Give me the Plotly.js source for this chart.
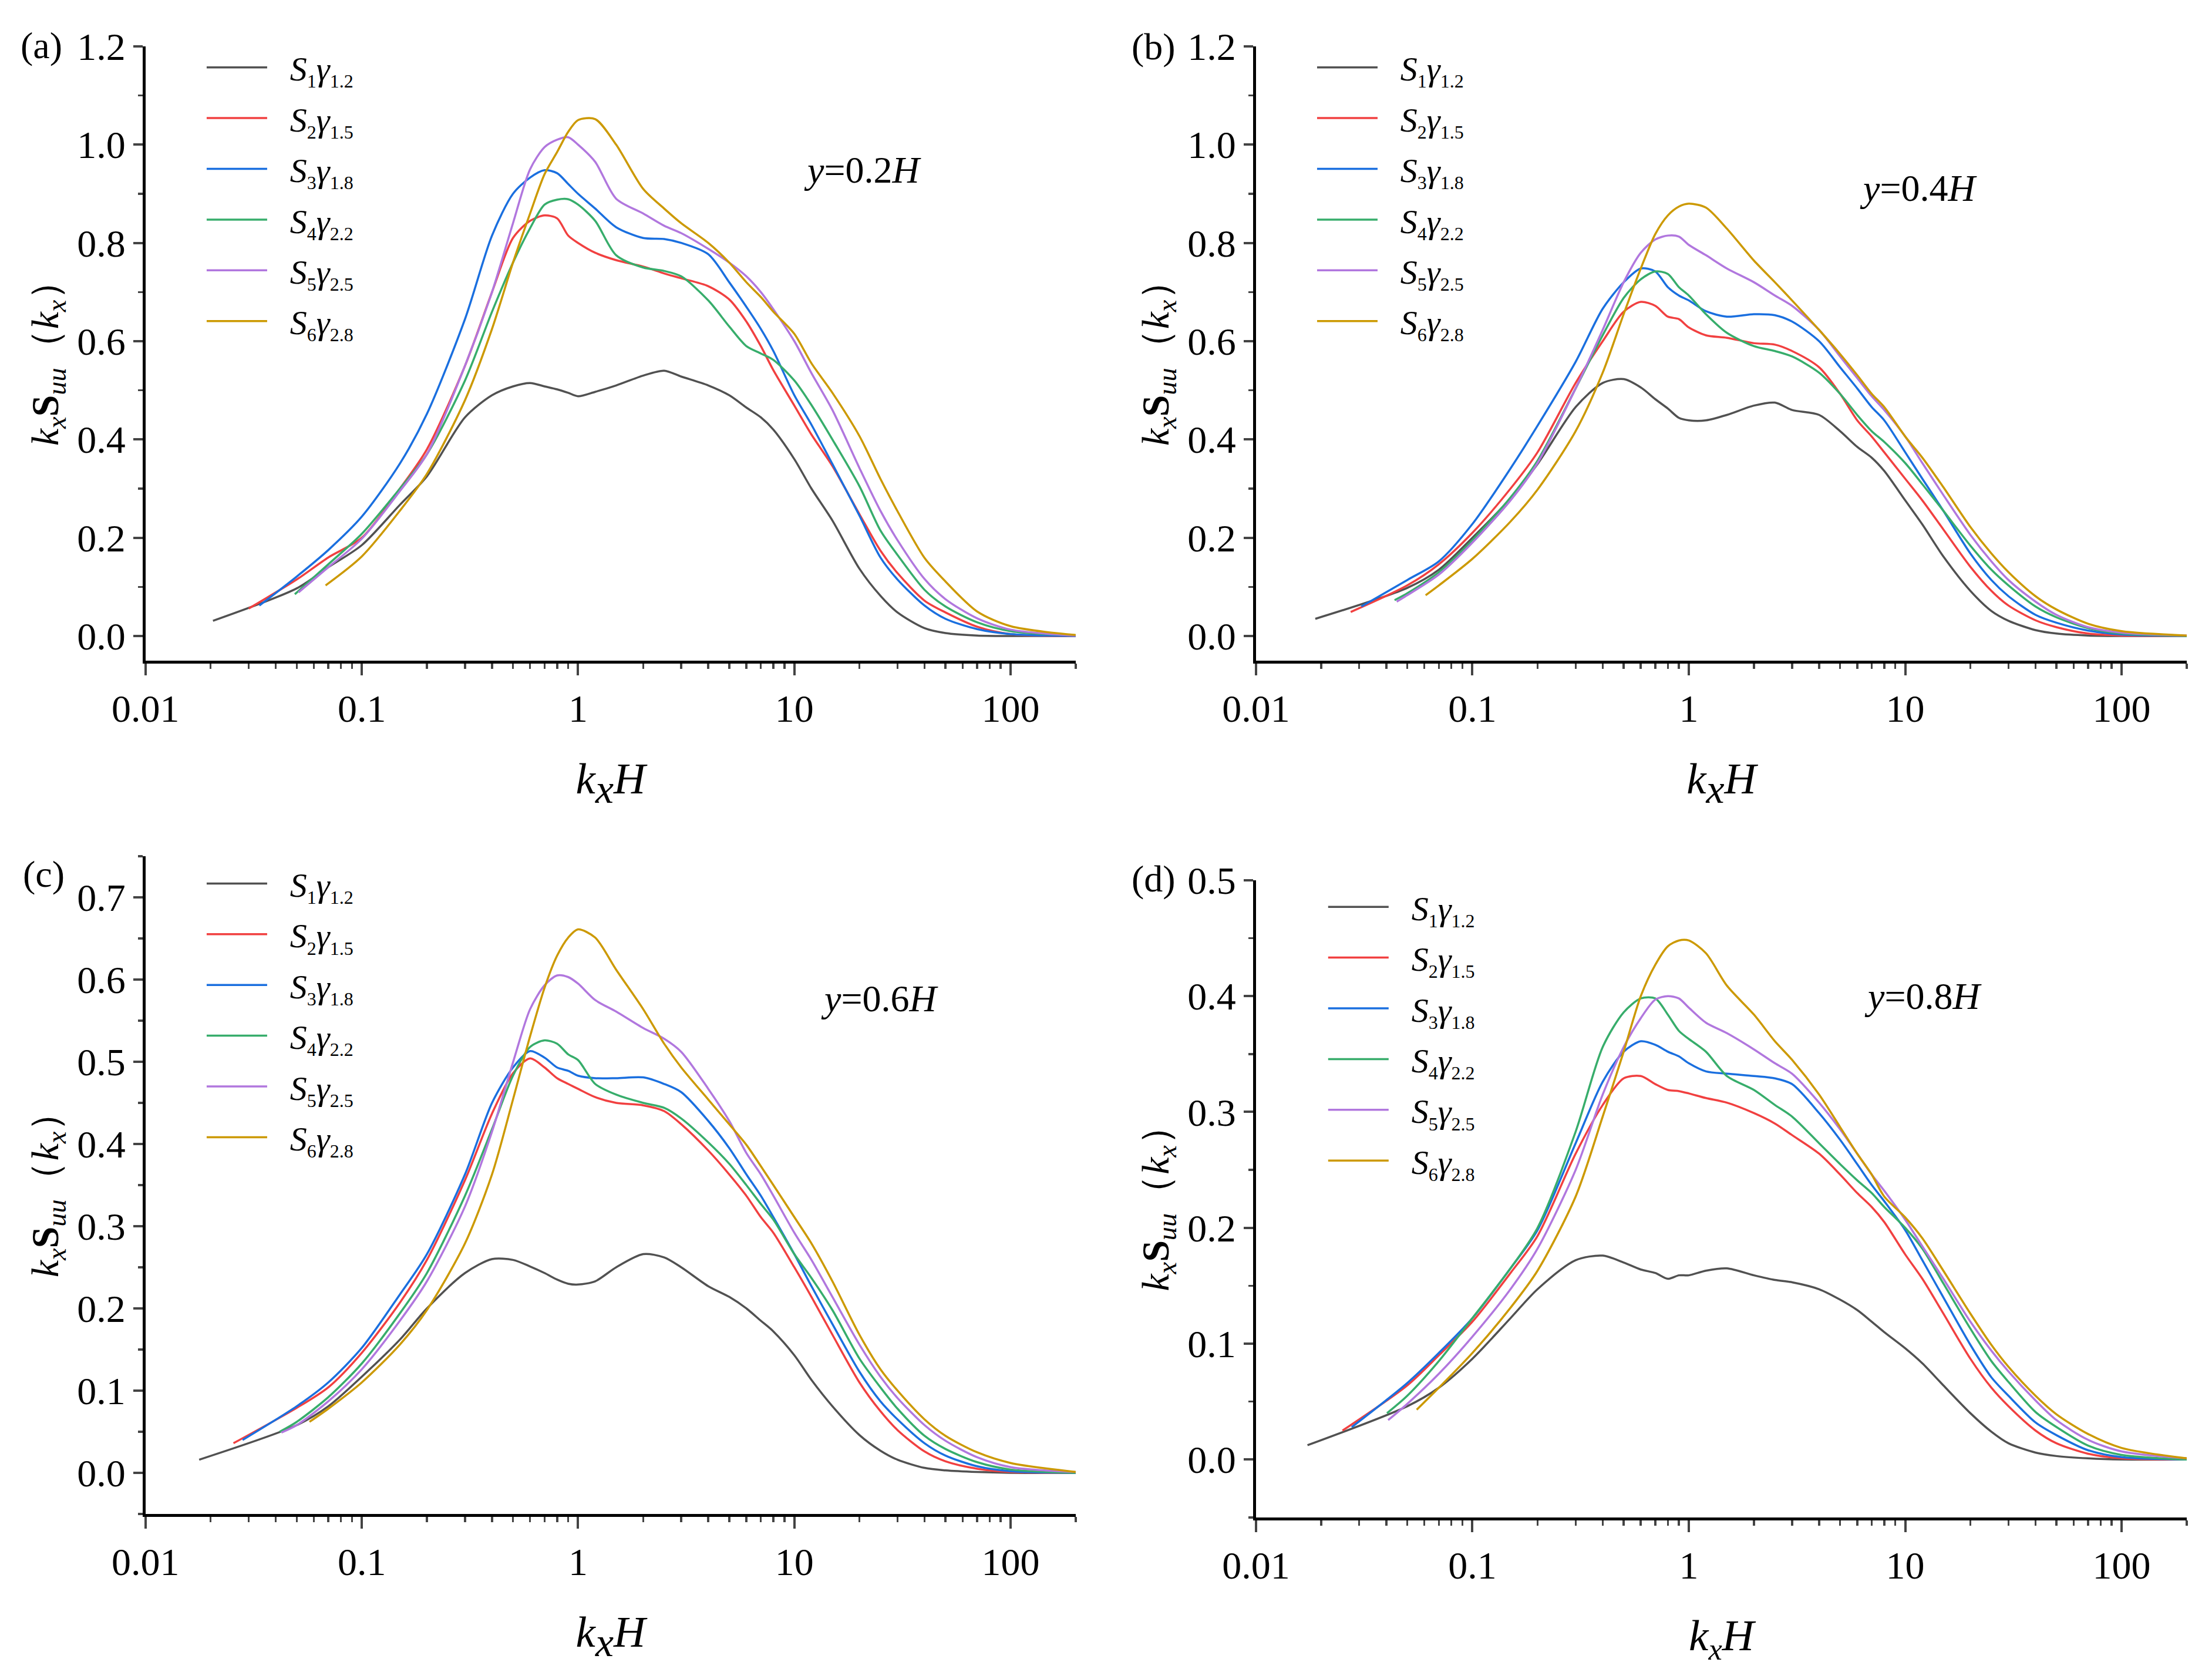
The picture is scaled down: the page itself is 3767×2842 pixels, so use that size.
<!DOCTYPE html>
<html>
<head>
<meta charset="utf-8">
<script src="https://cdn.plot.ly/plotly-3.0.1.min.js"></script>
<style>
	html, body {margin: 0; padding: 0; background: #fff;}
	#chart {width: 3767px; height: 2842px;}
</style>
</head>
<body>
<div id="chart"></div>
<script>
// shared kxH grid (values at these positions)
const kxH = [0.05, 0.07, 0.1, 0.15, 0.2, 0.3, 0.4, 0.5, 0.6, 0.7, 0.8, 0.9, 1, 1.2, 1.5, 2, 2.5, 3, 4, 5, 6, 7, 8, 10, 12, 15, 20, 25, 30, 40, 50, 70, 100, 200];

const sub = (t) => '<sub><span style="font-size:32px">' + t + '</span></sub>';
const names = [
	'<i>S</i>' + sub('1') + '<i>γ</i>' + sub('1.2'),
	'<i>S</i>' + sub('2') + '<i>γ</i>' + sub('1.5'),
	'<i>S</i>' + sub('3') + '<i>γ</i>' + sub('1.8'),
	'<i>S</i>' + sub('4') + '<i>γ</i>' + sub('2.2'),
	'<i>S</i>' + sub('5') + '<i>γ</i>' + sub('2.5'),
	'<i>S</i>' + sub('6') + '<i>γ</i>' + sub('2.8')
];
const colors = ['#515151', '#F14040', '#1A6FDF', '#37AD6B', '#B177DE', '#CC9900'];

// (a) y=0.2H
const a_start_x = [0.0205, 0.030, 0.0336, 0.049, 0.051, 0.068];
const a_start_y = [0.031, 0.056, 0.062, 0.085, 0.089, 0.103];
const a_s1 = [0.097, 0.14, 0.185, 0.267, 0.325, 0.445, 0.49, 0.508, 0.515, 0.508, 0.502, 0.495, 0.488, 0.497, 0.51, 0.53, 0.54, 0.528, 0.51, 0.49, 0.465, 0.445, 0.42, 0.36, 0.30, 0.235, 0.137, 0.082, 0.048, 0.016, 0.006, 0.001, 0, 0];
const a_s2 = [0.115, 0.16, 0.20, 0.30, 0.38, 0.55, 0.70, 0.81, 0.845, 0.856, 0.85, 0.815, 0.80, 0.78, 0.765, 0.752, 0.738, 0.728, 0.712, 0.685, 0.64, 0.59, 0.541, 0.469, 0.41, 0.346, 0.248, 0.174, 0.128, 0.072, 0.048, 0.019, 0.004, 0];
const a_s3 = [0.121, 0.175, 0.243, 0.351, 0.452, 0.645, 0.815, 0.90, 0.933, 0.948, 0.942, 0.92, 0.90, 0.87, 0.832, 0.81, 0.808, 0.80, 0.777, 0.72, 0.67, 0.625, 0.58, 0.49, 0.43, 0.35, 0.245, 0.16, 0.115, 0.062, 0.035, 0.014, 0.004, 0];
const a_s4 = [null, 0.146, 0.208, 0.30, 0.37, 0.52, 0.66, 0.76, 0.83, 0.878, 0.888, 0.889, 0.878, 0.845, 0.775, 0.75, 0.743, 0.732, 0.683, 0.63, 0.59, 0.575, 0.562, 0.52, 0.47, 0.40, 0.305, 0.215, 0.165, 0.094, 0.06, 0.028, 0.01, 0.001];
const a_s5 = [null, 0.14, 0.198, 0.295, 0.37, 0.55, 0.70, 0.84, 0.95, 0.995, 1.01, 1.015, 1.0, 0.965, 0.89, 0.86, 0.835, 0.82, 0.788, 0.76, 0.732, 0.70, 0.665, 0.60, 0.535, 0.46, 0.342, 0.255, 0.195, 0.116, 0.075, 0.036, 0.013, 0.001];
const a_s6 = [null, null, 0.162, 0.255, 0.33, 0.48, 0.625, 0.76, 0.86, 0.94, 0.985, 1.026, 1.05, 1.052, 1.0, 0.91, 0.87, 0.84, 0.80, 0.76, 0.72, 0.69, 0.66, 0.615, 0.555, 0.495, 0.407, 0.32, 0.254, 0.159, 0.111, 0.05, 0.02, 0.002];

// (b) y=0.4H
const b_start_x = [0.0188, 0.0274, 0.0307, 0.0437, 0.0447, 0.0608];
const b_start_y = [0.035, 0.049, 0.060, 0.073, 0.070, 0.083];
const b_s1 = [0.098, 0.135, 0.20, 0.28, 0.35, 0.466, 0.515, 0.523, 0.506, 0.482, 0.463, 0.444, 0.439, 0.439, 0.45, 0.469, 0.475, 0.46, 0.45, 0.417, 0.385, 0.363, 0.336, 0.276, 0.227, 0.162, 0.092, 0.051, 0.031, 0.012, 0.005, 0.001, 0, 0];
const b_s2 = [0.103, 0.146, 0.21, 0.30, 0.374, 0.515, 0.60, 0.66, 0.68, 0.672, 0.65, 0.645, 0.628, 0.612, 0.607, 0.596, 0.593, 0.58, 0.547, 0.493, 0.439, 0.406, 0.374, 0.32, 0.276, 0.217, 0.141, 0.092, 0.062, 0.032, 0.018, 0.005, 0.001, 0];
const b_s3 = [0.114, 0.152, 0.228, 0.341, 0.428, 0.558, 0.666, 0.72, 0.748, 0.742, 0.71, 0.693, 0.683, 0.661, 0.65, 0.655, 0.653, 0.64, 0.60, 0.547, 0.504, 0.466, 0.439, 0.374, 0.32, 0.255, 0.168, 0.114, 0.081, 0.043, 0.027, 0.011, 0.003, 0];
const b_s4 = [0.087, 0.13, 0.195, 0.282, 0.357, 0.504, 0.612, 0.688, 0.726, 0.742, 0.737, 0.71, 0.693, 0.655, 0.617, 0.59, 0.58, 0.569, 0.536, 0.493, 0.45, 0.417, 0.395, 0.352, 0.309, 0.255, 0.184, 0.135, 0.103, 0.06, 0.038, 0.016, 0.005, 0];
const b_s5 = [0.083, 0.125, 0.19, 0.276, 0.352, 0.504, 0.623, 0.72, 0.78, 0.807, 0.815, 0.813, 0.796, 0.775, 0.748, 0.72, 0.693, 0.672, 0.623, 0.569, 0.525, 0.488, 0.46, 0.406, 0.352, 0.287, 0.206, 0.152, 0.114, 0.07, 0.043, 0.018, 0.007, 0.001];
const b_s6 = [null, 0.103, 0.157, 0.233, 0.298, 0.417, 0.536, 0.655, 0.748, 0.818, 0.856, 0.874, 0.88, 0.872, 0.829, 0.764, 0.72, 0.683, 0.623, 0.574, 0.531, 0.493, 0.466, 0.406, 0.363, 0.303, 0.222, 0.168, 0.13, 0.081, 0.054, 0.025, 0.01, 0.001];

// (c) y=0.6H
const c_start_x = [0.0177, 0.0255, 0.0281, 0.0417, 0.0425, 0.0573];
const c_start_y = [0.016, 0.036, 0.040, 0.050, 0.049, 0.062];
const c_s1 = [0.058, 0.081, 0.117, 0.162, 0.20, 0.243, 0.26, 0.259, 0.251, 0.243, 0.235, 0.23, 0.229, 0.233, 0.25, 0.266, 0.262, 0.25, 0.227, 0.214, 0.20, 0.185, 0.172, 0.143, 0.113, 0.081, 0.046, 0.027, 0.016, 0.006, 0.003, 0.001, 0, 0];
const c_s2 = [0.079, 0.104, 0.146, 0.207, 0.259, 0.356, 0.437, 0.486, 0.504, 0.493, 0.48, 0.473, 0.467, 0.457, 0.45, 0.447, 0.44, 0.424, 0.392, 0.363, 0.337, 0.311, 0.292, 0.25, 0.214, 0.168, 0.11, 0.075, 0.052, 0.026, 0.014, 0.005, 0.001, 0];
const c_s3 = [0.081, 0.11, 0.152, 0.217, 0.266, 0.363, 0.45, 0.493, 0.513, 0.505, 0.493, 0.489, 0.483, 0.48, 0.48, 0.481, 0.473, 0.463, 0.428, 0.395, 0.363, 0.337, 0.311, 0.266, 0.227, 0.181, 0.123, 0.087, 0.065, 0.036, 0.021, 0.008, 0.002, 0];
const c_s4 = [0.062, 0.092, 0.133, 0.194, 0.243, 0.337, 0.418, 0.483, 0.518, 0.526, 0.522, 0.509, 0.502, 0.473, 0.46, 0.45, 0.444, 0.431, 0.402, 0.376, 0.35, 0.327, 0.308, 0.266, 0.237, 0.198, 0.139, 0.104, 0.078, 0.045, 0.029, 0.013, 0.004, 0];
const c_s5 = [0.058, 0.087, 0.126, 0.185, 0.233, 0.324, 0.415, 0.499, 0.564, 0.593, 0.605, 0.603, 0.595, 0.575, 0.561, 0.541, 0.528, 0.512, 0.467, 0.428, 0.389, 0.363, 0.337, 0.292, 0.259, 0.214, 0.156, 0.117, 0.091, 0.058, 0.039, 0.019, 0.007, 0.001];
const c_s6 = [null, 0.078, 0.11, 0.156, 0.198, 0.279, 0.363, 0.454, 0.531, 0.59, 0.629, 0.651, 0.661, 0.651, 0.612, 0.564, 0.522, 0.493, 0.454, 0.424, 0.399, 0.373, 0.35, 0.311, 0.279, 0.233, 0.168, 0.126, 0.10, 0.065, 0.045, 0.025, 0.012, 0.001];

// (d) y=0.8H
const d_start_x = [0.0173, 0.0251, 0.0277, 0.0403, 0.0408, 0.0553];
const d_start_y = [0.0124, 0.025, 0.028, 0.040, 0.034, 0.043];
const d_s1 = [0.046, 0.062, 0.087, 0.122, 0.147, 0.172, 0.176, 0.17, 0.164, 0.161, 0.156, 0.159, 0.159, 0.163, 0.165, 0.159, 0.155, 0.153, 0.147, 0.138, 0.129, 0.119, 0.11, 0.096, 0.083, 0.064, 0.040, 0.024, 0.014, 0.006, 0.003, 0.001, 0, 0];
const d_s2 = [0.064, 0.09, 0.119, 0.161, 0.193, 0.264, 0.306, 0.329, 0.331, 0.324, 0.319, 0.318, 0.316, 0.312, 0.308, 0.299, 0.29, 0.28, 0.264, 0.246, 0.23, 0.218, 0.205, 0.177, 0.156, 0.126, 0.087, 0.062, 0.046, 0.025, 0.014, 0.005, 0.001, 0];
const d_s3 = [0.066, 0.092, 0.122, 0.165, 0.198, 0.273, 0.326, 0.352, 0.361, 0.358, 0.352, 0.348, 0.342, 0.335, 0.333, 0.331, 0.329, 0.324, 0.299, 0.276, 0.255, 0.237, 0.223, 0.198, 0.172, 0.14, 0.099, 0.071, 0.055, 0.032, 0.021, 0.008, 0.002, 0];
const d_s4 = [0.055, 0.085, 0.122, 0.165, 0.20, 0.283, 0.356, 0.386, 0.398, 0.398, 0.384, 0.37, 0.363, 0.352, 0.331, 0.319, 0.306, 0.296, 0.273, 0.255, 0.241, 0.23, 0.218, 0.20, 0.182, 0.152, 0.113, 0.085, 0.067, 0.041, 0.028, 0.012, 0.004, 0];
const d_s5 = [0.048, 0.074, 0.106, 0.147, 0.182, 0.25, 0.315, 0.356, 0.381, 0.397, 0.40, 0.398, 0.39, 0.377, 0.368, 0.354, 0.342, 0.333, 0.308, 0.285, 0.264, 0.246, 0.232, 0.207, 0.184, 0.156, 0.119, 0.094, 0.076, 0.051, 0.034, 0.017, 0.007, 0.001];
const d_s6 = [null, 0.062, 0.092, 0.131, 0.163, 0.227, 0.296, 0.352, 0.40, 0.427, 0.443, 0.448, 0.448, 0.437, 0.409, 0.384, 0.361, 0.345, 0.315, 0.287, 0.264, 0.246, 0.227, 0.209, 0.191, 0.163, 0.126, 0.099, 0.08, 0.055, 0.039, 0.022, 0.01, 0.001];

const panels = [
	{start_x: a_start_x, start_y: a_start_y, series: [a_s1, a_s2, a_s3, a_s4, a_s5, a_s6]},
	{start_x: b_start_x, start_y: b_start_y, series: [b_s1, b_s2, b_s3, b_s4, b_s5, b_s6]},
	{start_x: c_start_x, start_y: c_start_y, series: [c_s1, c_s2, c_s3, c_s4, c_s5, c_s6]},
	{start_x: d_start_x, start_y: d_start_y, series: [d_s1, d_s2, d_s3, d_s4, d_s5, d_s6]}
];

const FONT = '"Liberation Serif", "Times New Roman", Times, serif';

let chart_data = [];
panels.forEach((p, pi) => {
	const ax = pi === 0 ? '' : String(pi + 1);
	p.series.forEach((vals, si) => {
		let x = [p.start_x[si]];
		let y = [p.start_y[si]];
		kxH.forEach((k, i) => {
			if (k > p.start_x[si] && vals[i] !== null) {
				x.push(k);
				y.push(vals[i]);
			}
		});
		chart_data.push({
			x: x,
			y: y,
			// gap between legend line and label, as in the original
			name: '\u2002\u200A' + names[si],
			mode: 'lines',
			xaxis: 'x' + ax,
			yaxis: 'y' + ax,
			legend: 'legend' + ax,
			legendgroup: 'p' + pi + 's' + si,
			line: {color: colors[si], width: 3.5, shape: 'spline', smoothing: 0.8}
		});
	});
});

// (a)-(c) draw the x of k_x nearly full size and dropped; (d) as a normal subscript
const xtitle_big = '<i>k</i><sub><span style="font-size:70px"><i>x</i></span></sub><i>H</i>';
const xtitle_small = '<i>k</i><sub><i>x</i></sub><i>H</i>';

function x_axis(domain, anchor, title) {
	return {
		type: 'log',
		domain: domain,
		anchor: anchor,
		range: [-2, Math.log10(200)],
		tickvals: [0.01, 0.1, 1, 10, 100],
		ticktext: ['0.01', '0.1', '1', '10', '100'],
		ticks: 'outside',
		ticklen: 20,
		tickwidth: 4,
		minor: {ticks: 'outside', ticklen: 9, tickwidth: 3.5, dtick: 'D1'},
		showline: true,
		linewidth: 5,
		linecolor: '#000',
		showgrid: false,
		zeroline: false,
		tickfont: {family: FONT, size: 66, color: '#000'},
		title: {text: title, font: {family: FONT, size: 75, color: '#000'}, standoff: 58}
	};
}

function y_axis(domain, anchor, range, dtick) {
	return {
		domain: domain,
		anchor: anchor,
		range: range,
		tick0: 0,
		dtick: dtick,
		tickformat: '.1f',
		ticks: 'outside',
		ticklen: 16,
		tickwidth: 4,
		minor: {ticks: 'outside', ticklen: 8, tickwidth: 3.5, dtick: dtick / 2, tick0: 0},
		showline: true,
		linewidth: 5,
		linecolor: '#000',
		showgrid: false,
		zeroline: false,
		tickfont: {family: FONT, size: 66, color: '#000'},
		title: {
			text: '<i>k</i><sub><i>x</i></sub><b>S</b><sub><i>uu</i></sub>（<i>k</i><sub><i>x</i></sub>）',
			font: {family: FONT, size: 66, color: '#000'},
			standoff: 12
		}
	};
}

function legend_at(x, y) {
	return {
		x: x, y: y, xanchor: 'left', yanchor: 'top',
		bgcolor: 'rgba(0,0,0,0)',
		borderwidth: 0,
		tracegroupgap: 8,
		itemwidth: 103,
		font: {family: FONT, size: 58, color: '#000'}
	};
}

function note(x, y, text, size) {
	return {
		xref: 'paper', yref: 'paper', x: x, y: y,
		text: text, showarrow: false,
		xanchor: 'center', yanchor: 'middle',
		font: {family: FONT, size: size, color: '#000'}
	};
}

const left = [0.0658, 0.4863];
const right = [0.5678, 0.9886];

const chart_layout = {
	width: 3767,
	height: 2842,
	margin: {l: 0, r: 0, t: 0, b: 0},
	paper_bgcolor: '#fff',
	plot_bgcolor: '#fff',
	showlegend: true,
	xaxis: x_axis(left, 'y', xtitle_big),
	yaxis: y_axis([0.6042, 0.9722], 'x', [-0.05, 1.2], 0.2),
	xaxis2: x_axis(right, 'y2', xtitle_big),
	yaxis2: y_axis([0.6042, 0.9722], 'x2', [-0.05, 1.2], 0.2),
	xaxis3: x_axis(left, 'y3', xtitle_big),
	yaxis3: y_axis([0.0929, 0.4870], 'x3', [-0.05, 0.75], 0.1),
	xaxis4: x_axis(right, 'y4', xtitle_small),
	yaxis4: y_axis([0.0908, 0.4726], 'x4', [-0.05, 0.5], 0.1),
	legend: legend_at(0.0921, 0.9752),
	legend2: legend_at(0.5941, 0.9752),
	legend3: legend_at(0.0921, 0.4862),
	legend4: legend_at(0.5991, 0.4722),
	annotations: [
		note(0.0186, 0.9726, '(a)', 64),
		note(0.5214, 0.9722, '(b)', 64),
		note(0.0199, 0.4764, '(c)', 64),
		note(0.5214, 0.4736, '(d)', 64),
		note(0.3902, 0.8980, '<i>y</i>=0.2<i>H</i>', 64),
		note(0.8675, 0.8874, '<i>y</i>=0.4<i>H</i>', 64),
		note(0.3979, 0.4018, '<i>y</i>=0.6<i>H</i>', 64),
		note(0.8694, 0.4029, '<i>y</i>=0.8<i>H</i>', 64)
	]
};

Plotly.newPlot('chart', chart_data, chart_layout, {displayModeBar: false, staticPlot: true});
</script>
</body>
</html>
